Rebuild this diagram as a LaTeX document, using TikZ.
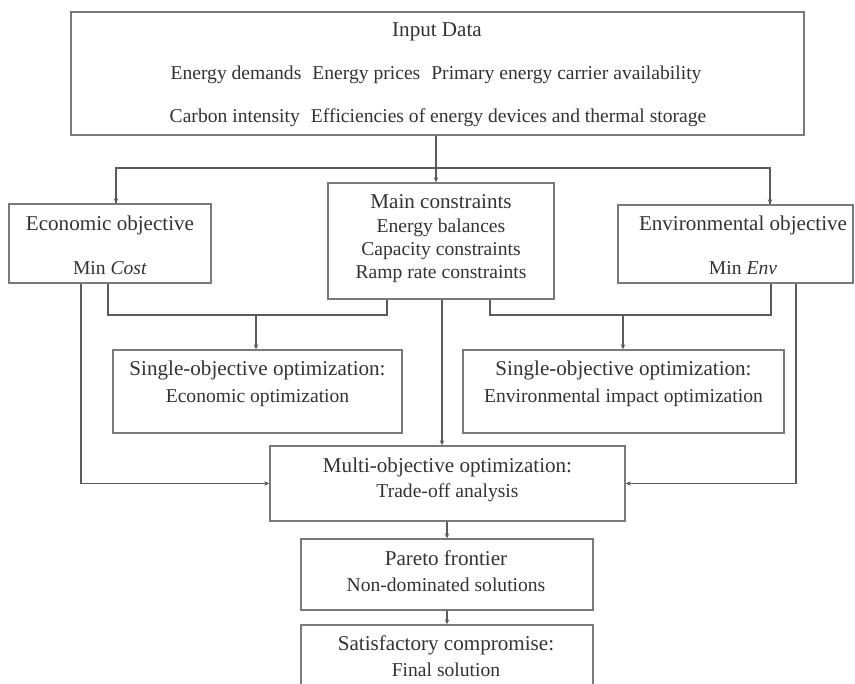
\documentclass[tikz,border=0pt]{standalone}
\usepackage{fontspec}
\setmainfont{Liberation Serif}
\usetikzlibrary{arrows.meta}
\definecolor{boxline}{HTML}{7A7A7A}
\definecolor{wire}{HTML}{5A5A5A}
\definecolor{ink}{HTML}{333333}
\tikzset{
  box/.style={draw=boxline, line width=1.4pt, inner sep=0pt, fill=white},
  txt/.style={text=ink, inner sep=0pt, font=\fontsize{19.6}{23}\selectfont},
  head/.style={txt, font=\fontsize{21.1}{25}\selectfont},
  wireline/.style={draw=wire, line width=1.2pt},
  arr/.style={wireline, -{Stealth[length=5pt,width=4.5pt]}},
}
\begin{document}
\begin{tikzpicture}[x=1pt,y=-1pt]
\useasboundingbox (0,0) rectangle (855,684);

% boxes
\node[box, minimum width=733pt, minimum height=123pt] (input) at (437.5,73.5) {};
\node[box, minimum width=202pt, minimum height=79pt] (econ) at (110,243.5) {};
\node[box, minimum width=226pt, minimum height=116pt] (main) at (441,241) {};
\node[box, minimum width=235pt, minimum height=78pt] (env) at (735.5,244) {};
\node[box, minimum width=289pt, minimum height=83pt] (seco) at (257.5,391.5) {};
\node[box, minimum width=321pt, minimum height=83pt] (senv) at (623.5,391.5) {};
\node[box, minimum width=355pt, minimum height=75pt] (multi) at (447.5,483.5) {};
\node[box, minimum width=292pt, minimum height=71pt] (pareto) at (447,574.5) {};
\node[box, minimum width=292pt, minimum height=80pt] (final) at (447,665) {};

% texts
\node[head] (t1) at (437,32) {Input Data};
\node[txt] (t2) at (436,75) {Energy demands\hspace{11pt}Energy prices\hspace{11pt}Primary energy carrier availability};
\node[txt] (t3) at (438,118) {Carbon intensity\hspace{11pt}Efficiencies of energy devices and thermal storage};
\node[head] (t4) at (110,225) {Economic objective};
\node[txt] (t5) at (110,268) {Min \textit{Cost}};
\node[head] (t6) at (441,202) {Main constraints};
\node[txt] (t7) at (441,228) {Energy balances};
\node[txt] (t8) at (441,251) {Capacity constraints};
\node[txt] (t9) at (441,274) {Ramp rate constraints};
\node[head] (t10) at (743,225) {Environmental objective};
\node[txt] (t11) at (743,268) {Min \textit{Env}};
\node[head] (t12) at (257.5,370) {Single-objective optimization:};
\node[txt] (t13) at (257.5,398) {Economic optimization};
\node[head] (t14) at (623.5,370) {Single-objective optimization:};
\node[txt] (t15) at (623.5,398) {Environmental impact optimization};
\node[head] (t16) at (447.5,467) {Multi-objective optimization:};
\node[txt] (t17) at (447.5,493) {Trade-off analysis};
\node[head] (t18) at (446,558) {Pareto frontier};
\node[txt] (t19) at (446,585) {Non-dominated solutions};
\node[head] (t20) at (446,645) {Satisfactory compromise:};
\node[txt] (t21) at (446,670) {Final solution};

% junction points
\coordinate (split) at (436,168);
\coordinate (joinE) at (256,315);
\coordinate (joinV) at (623,315);

% input data fans out to the three upper boxes
\draw[arr] (input.south -| split) -- (main.north -| split);
\draw[wireline] (econ.north -| 116,0) |- (split) -| (env.north -| 770,0);
\draw[arr] (116,168) -- (econ.north -| 116,0);
\draw[arr] (770,168) -- (env.north -| 770,0);

% objectives combined with constraints
\draw[wireline] (econ.south -| 108,0) |- (joinE) -| (main.south -| 387,0);
\draw[arr] (joinE) -- (seco.north -| joinE);
\draw[wireline] (main.south -| 490,0) |- (joinV) -| (env.south -| 771,0);
\draw[arr] (joinV) -- (senv.north -| joinV);

% inputs to the multi-objective stage
\draw[arr] (econ.south -| 81,0) |- (multi.west);
\draw[arr] (env.south -| 796,0) |- (multi.east);
\draw[arr] (main.south -| 442,0) -- (multi.north -| 442,0);

% final chain
\draw[arr] (multi.south -| 447,0) -- (pareto.north -| 447,0);
\draw[arr] (pareto.south) -- (final.north);
\end{tikzpicture}
\end{document}
